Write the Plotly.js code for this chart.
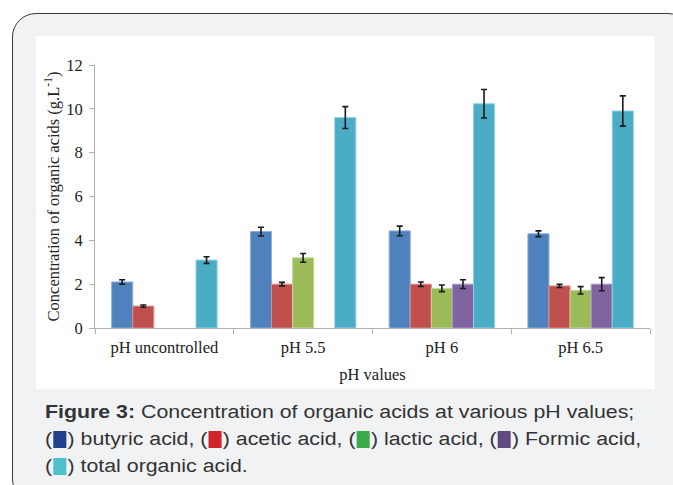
<!DOCTYPE html>
<html>
<head>
<meta charset="utf-8">
<script src="https://cdn.plot.ly/plotly-3.0.1.min.js"></script>
<style>
  html, body { margin:0; padding:0; background:#ffffff; width:673px; height:485px; overflow:hidden; }
  #box { position:absolute; left:12px; top:13px; width:680px; height:490px; box-sizing:border-box;
         border:1.5px solid #3a3a3a; border-radius:24px; background:#f1f2f4; }
  #panel { position:absolute; left:36px; top:36px; width:619px; height:353px; background:#ffffff; }
  #chart { position:absolute; left:36px; top:36px; width:619px; height:353px; }
  #caption { position:absolute; left:45px; top:399px; width:560px; font-family:"Liberation Sans", Arial, sans-serif;
             font-size:18px; line-height:27px; color:#333333; white-space:nowrap;
             transform:scaleX(1.185); transform-origin:0 0; }
  .sw { display:inline-block; width:11px; height:17px; vertical-align:-3px; margin:0 1px; }
</style>
</head>
<body>
<div id="box"></div>
<div id="panel"></div>
<div id="chart"></div>
<div id="caption"><b>Figure 3:</b> Concentration of organic acids at various pH values;<br>(<span class="sw" style="background:#233f8f"></span>) butyric acid, (<span class="sw" style="background:#d2232a"></span>) acetic acid, (<span class="sw" style="background:#3aaa48"></span>) lactic acid, (<span class="sw" style="background:#5f4b80"></span>) Formic acid,<br>(<span class="sw" style="background:#4dbfcd"></span>) total organic acid.</div>
<script>
const categories = ["pH uncontrolled", "pH 5.5", "pH 6", "pH 6.5"];
const seriesNames = ["butyric acid", "acetic acid", "lactic acid", "Formic acid", "total organic acid"];
const butyric = [2.1, 4.4, 4.43, 4.3];
const butyricErr = [0.1, 0.2, 0.22, 0.13];
const acetic = [1.0, 2.0, 2.0, 1.92];
const aceticErr = [0.05, 0.08, 0.1, 0.07];
const lactic = [null, 3.2, 1.81, 1.72];
const lacticErr = [null, 0.2, 0.15, 0.17];
const formic = [null, null, 2.0, 2.0];
const formicErr = [null, null, 0.2, 0.3];
const total = [3.1, 9.6, 10.23, 9.9];
const totalErr = [0.15, 0.5, 0.65, 0.69];
const colors = ["#4f81bd", "#c0504d", "#9bbb59", "#8064a2", "#4bacc6"];
const edgeColors = ["#8eaedb", "#dc8e8c", "#c3d89c", "#ad9ac6", "#8fd0e2"];

const values = [butyric, acetic, lactic, formic, total];
const errs = [butyricErr, aceticErr, lacticErr, formicErr, totalErr];

const traces = values.map((v, i) => ({
  type: "bar",
  name: seriesNames[i],
  x: categories,
  y: v,
  marker: { color: colors[i], line: { color: edgeColors[i], width: 1 } },
  error_y: { type: "data", array: errs[i], visible: true, color: "#1a1a1a", thickness: 1.6, width: 3 },
  hoverinfo: "y"
}));

const serif = "'Liberation Serif', 'Times New Roman', serif";
const fnt = { family: serif, size: 16.5, color: "#222222" };
const layout = {
  width: 619, height: 353,
  margin: { l: 59, r: 5, t: 29, b: 61 },
  paper_bgcolor: "rgba(0,0,0,0)",
  plot_bgcolor: "rgba(0,0,0,0)",
  barmode: "group",
  bargap: 0.24,
  bargroupgap: 0,
  showlegend: false,
  font: fnt,
  xaxis: {
    type: "category",
    showline: true, linecolor: "#b0b0b0", linewidth: 1,
    ticks: "outside", tickson: "boundaries", ticklen: 5, tickcolor: "#b0b0b0",
    ticklabelstandoff: 4,
    showgrid: false, zeroline: false,
    tickfont: fnt,
    title: { text: "pH values", font: fnt, standoff: 12 }
  },
  yaxis: {
    range: [0, 12], dtick: 2,
    showline: true, linecolor: "#b0b0b0", linewidth: 1,
    ticks: "outside", ticklen: 5, tickcolor: "#b0b0b0",
    ticklabelstandoff: 3,
    showgrid: false, zeroline: false,
    tickfont: fnt,
    title: { text: "Concentration of organic acids (g.L<sup>-1</sup>)", font: fnt, standoff: 2 }
  }
};

Plotly.newPlot("chart", traces, layout, { displayModeBar: false, staticPlot: true });
</script>
</body>
</html>
